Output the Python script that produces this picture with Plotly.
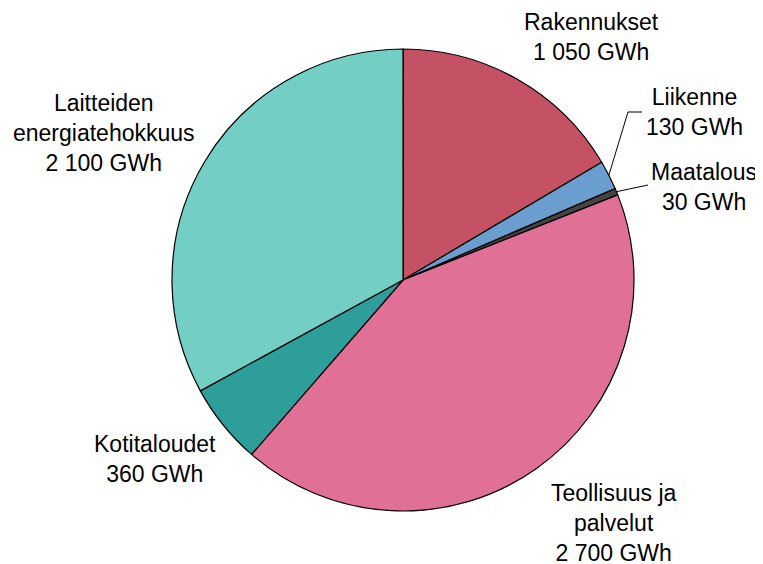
import math
import plotly.graph_objects as go

labels = ["Rakennukset", "Liikenne", "Maatalous", "Teollisuus ja<br>palvelut", "Kotitaloudet", "Laitteiden<br>energiatehokkuus"]
values = [1050, 130, 30, 2700, 360, 2100]
colors = ["#C55264", "#6A9ECF", "#444444", "#E07096", "#2E9E9B", "#73CEC3"]

W, H = 763, 564
OFF = 8  # page body margin offset
CX, CY, R = 403, 280, 231

def px(x):
    return (x - OFF) / W

def py(y):
    return 1 - (y - OFF) / H

fig = go.Figure(go.Pie(
    labels=labels,
    values=values,
    sort=False,
    direction="clockwise",
    rotation=0,
    textinfo="none",
    hoverinfo="label+value",
    marker=dict(colors=colors, line=dict(color="black", width=1.2)),
    domain=dict(x=[px(CX - R), px(CX + R)], y=[py(CY + R), py(CY - R)]),
    showlegend=False,
))

# label block centres (pixels)
label_pos = [(591, 37), (694, 112), (704, 187), (613, 523), (155, 459), (104, 133)]

annotations = []
for lab, v, (x, y) in zip(labels, values, label_pos):
    txt = f"{lab}<br>{v:,}".replace(",", " ") + " GWh"
    annotations.append(dict(
        x=px(x), y=py(y), xref="paper", yref="paper", text=txt,
        showarrow=False, xanchor="center", yanchor="middle", align="center",
        font=dict(family="Liberation Sans, Arial, sans-serif", size=23, color="black"),
    ))

# leader lines for small slices, starting from slice mid-angle on the rim
total = sum(values)
cum = 0
mids = []
for v in values:
    mids.append((cum + v / 2) / total * 360)
    cum += v

shapes = []
def rim(angle):
    a = math.radians(angle)
    return CX + R * math.sin(a), CY - R * math.cos(a)

# Liikenne: rim -> elbow -> horizontal
x0, y0 = rim(mids[1])
shapes.append(dict(type="path", xref="paper", yref="paper",
                   path=f"M {px(x0)},{py(y0)} L {px(628)},{py(112)} L {px(642)},{py(112)}",
                   line=dict(color="black", width=1)))
# Maatalous
x0, y0 = rim(mids[2])
shapes.append(dict(type="line", xref="paper", yref="paper",
                   x0=px(x0), y0=py(y0), x1=px(648), y1=py(185),
                   line=dict(color="black", width=1)))

fig.update_layout(
    width=W, height=H,
    margin=dict(l=0, r=0, t=0, b=0),
    paper_bgcolor="white", plot_bgcolor="white",
    annotations=annotations,
    shapes=shapes,
)

fig.write_html("out.html")
